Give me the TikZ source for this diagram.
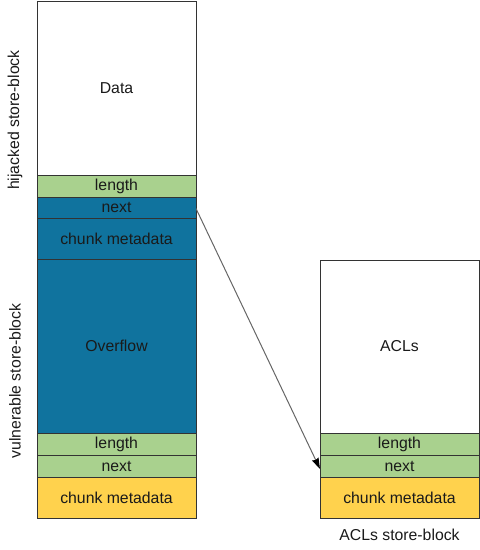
\documentclass[tikz,border=0pt]{standalone}
\usepackage{fontspec}
\setmainfont{Liberation Sans}
\usetikzlibrary{arrows.meta}
\definecolor{cgreen}{HTML}{A9D18E}
\definecolor{cblue}{HTML}{10739E}
\definecolor{cyellow}{HTML}{FFD24D}
\definecolor{cline}{HTML}{333333}
\definecolor{ctext}{HTML}{1A1A1A}
\begin{document}
\begin{tikzpicture}[x=1pt,y=-1pt,
  box/.style={draw=cline, line width=0.9pt, anchor=north west, inner sep=0pt, outer sep=0pt,
    minimum width=159pt, text=ctext, font=\fontsize{15.8}{18}\selectfont},
  sidelabel/.style={rotate=90, text=ctext, font=\fontsize{15.8}{18}\selectfont, inner sep=0pt},
  link/.style={draw=black!60, line width=1pt, -{Stealth[length=11pt,width=7pt,inset=1pt,color=black,fill=black]}}]
\useasboundingbox (0,0) rectangle (480,550);
% left column
\node[box, fill=white, minimum height=174pt] (data) at (37,1) {Data};
\node[box, fill=cgreen, minimum height=22pt] (len1) at (37,175) {length};
\node[box, fill=cblue, minimum height=21pt] (next1) at (37,197) {next};
\node[box, fill=cblue, minimum height=41pt] (cm1) at (37,218) {chunk metadata};
\node[box, fill=cblue, minimum height=174pt] (ovf) at (37,259) {Overflow};
\node[box, fill=cgreen, minimum height=22pt] (len2) at (37,433) {length};
\node[box, fill=cgreen, minimum height=22pt] (next2) at (37,455) {next};
\node[box, fill=cyellow, minimum height=41pt] (cm2) at (37,477) {chunk metadata};
% right column
\node[box, fill=white, minimum height=173pt] (acls) at (320,260) {ACLs};
\node[box, fill=cgreen, minimum height=22pt] (len3) at (320,433) {length};
\node[box, fill=cgreen, minimum height=22pt] (next3) at (320,455) {next};
\node[box, fill=cyellow, minimum height=41pt] (cm3) at (320,477) {chunk metadata};
% labels
\node[sidelabel] (hij) at (15,120) {hijacked store-block};
\node[sidelabel] (vul) at (15,381) {vulnerable store-block};
\node[text=ctext, font=\fontsize{15.8}{18}\selectfont, inner sep=0pt] (aclsl) at (399.5,535) {ACLs store-block};
% pointer
\draw[link] ([yshift=-1pt]next1.east) -- ([yshift=-3pt]next3.west);
\end{tikzpicture}
\end{document}
